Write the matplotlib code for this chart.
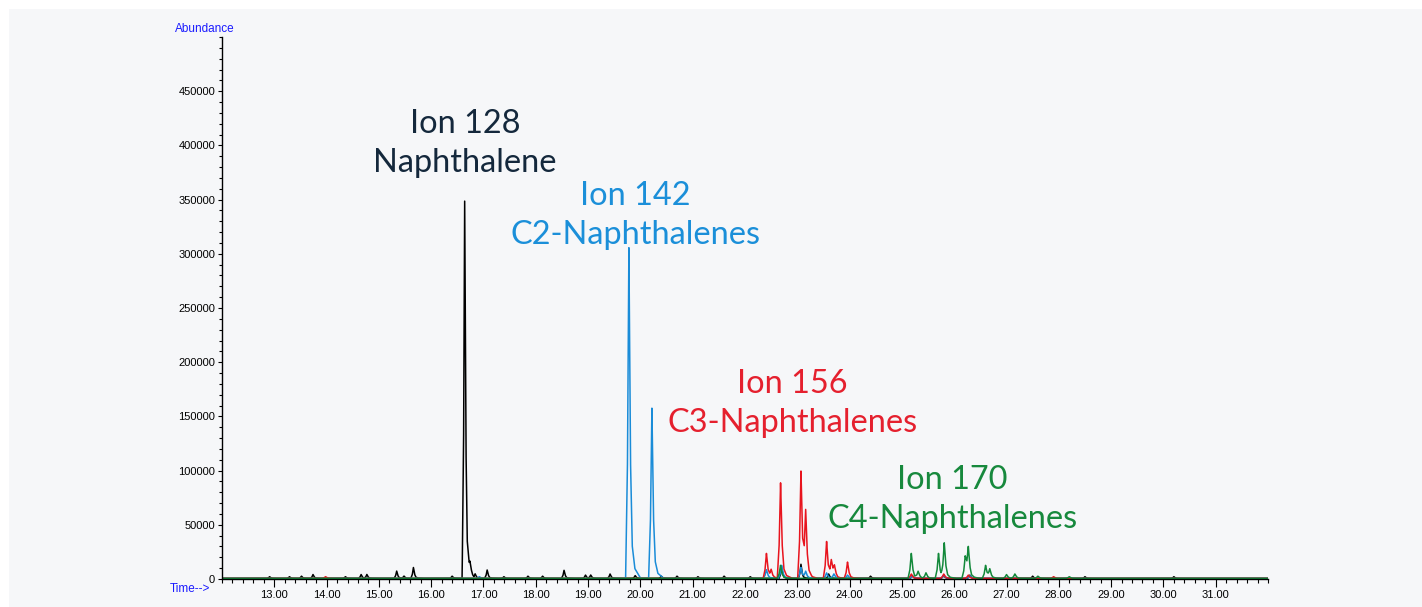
import numpy as np
import matplotlib.pyplot as plt
from matplotlib.patches import Rectangle
from matplotlib.ticker import MultipleLocator, FixedLocator

# peak tables: retention time (min), abundance
ion128_t = [12.91, 13.29, 13.52, 13.74, 14.36, 14.66, 14.77, 15.34, 15.48, 15.66,
            16.40, 16.64, 16.74, 16.84, 17.07, 17.39, 17.85, 18.13, 18.54, 18.95,
            19.05, 19.42, 19.90, 20.40, 20.70, 21.10, 21.60, 22.10, 22.70, 23.07,
            23.60, 24.40, 25.20, 25.80, 26.30, 27.50, 28.50, 30.20]
ion128_h = [1500, 1500, 2000, 3500, 1500, 3500, 3500, 6700, 2000, 10000,
            2000, 348000, 7000, 4000, 7700, 1500, 2000, 2000, 7400, 3000,
            3000, 4000, 2500, 2000, 2000, 1500, 2000, 1500, 10000, 13000,
            4000, 2000, 2500, 3000, 3000, 2000, 1500, 1500]

ion142_t = [16.92, 19.78, 20.22, 22.41, 22.70, 23.07, 23.16, 23.56, 23.70, 23.96,
            25.20, 25.80, 26.30]
ion142_h = [1500, 305000, 157000, 8000, 12000, 10000, 6000, 5000, 4000, 3000,
            2000, 3000, 2500]

ion156_t = [13.98, 22.41, 22.50, 22.68, 23.07, 23.16, 23.56, 23.65, 23.71, 23.96,
            25.18, 25.80, 26.27, 27.90]
ion156_h = [1500, 23000, 7000, 88000, 99000, 57500, 34000, 15000, 10000, 15000,
            4000, 4000, 3000, 1500]

ion170_t = [22.68, 25.18, 25.31, 25.46, 25.70, 25.81, 26.21, 26.27, 26.60, 26.68,
            27.00, 27.16, 27.60, 28.20]
ion170_h = [12000, 23000, 6000, 5000, 23000, 32000, 20000, 27000, 12000, 8000,
            3500, 4000, 2000, 1500]

labels = ["Ion 128\nNaphthalene", "Ion 142\nC2-Naphthalenes",
          "Ion 156\nC3-Naphthalenes", "Ion 170\nC4-Naphthalenes"]
label_pos = [(16.65, 402000), (19.90, 335000), (22.90, 161500), (25.96, 73000)]

line_colors = ["#000000", "#1a8cd8", "#e8141e", "#12883a"]
text_colors = ["#14283c", "#1b8fd9", "#e5202e", "#17893d"]


def trace(grid, times, heights, w):
    y = np.full_like(grid, 600.0)
    for t, h in zip(times, heights):
        y += np.interp(grid,
                       [t - 1.4 * w, t - 0.6 * w, t, t + 0.7 * w, t + 1.4 * w,
                        t + 2.5 * w, t + 5 * w],
                       [0, 0.35 * h, h, 0.35 * h, 0.1 * h, 0.03 * h, 0],
                       left=0, right=0)
    return y


fig = plt.figure(figsize=(14.22, 6.07), dpi=100, facecolor="white")
fig.patches.append(Rectangle((9 / 1422, 0), 1, 1 - 9 / 607, transform=fig.transFigure,
                             facecolor="#f6f7f9", edgecolor="none", zorder=-10))

ax = fig.add_axes([222 / 1422, 28 / 607, 1046 / 1422, 542 / 607])
ax.set_facecolor("none")
ax.set_zorder(5)

grid = np.linspace(12, 32, 8001)
tables = [(ion128_t, ion128_h, 0.035), (ion142_t, ion142_h, 0.045),
          (ion156_t, ion156_h, 0.045), (ion170_t, ion170_h, 0.045)]
for (t, h, w), c in zip(tables, line_colors):
    ax.plot(grid, trace(grid, t, h, w), color=c, lw=1.1)

for lab, (x, y), c in zip(labels, label_pos, text_colors):
    ax.text(x, y, lab, color=c, ha="center", va="center", fontsize=23.4,
            family="Lato", linespacing=1.38)

ax.set_xlim(12, 32)
ax.set_ylim(0, 500000)
for s in ["top", "right"]:
    ax.spines[s].set_visible(False)
ax.spines["left"].set_linewidth(1.0)
ax.spines["bottom"].set_linewidth(1.0)

ax.xaxis.set_major_locator(FixedLocator(np.arange(13, 32)))
ax.xaxis.set_minor_locator(MultipleLocator(0.2))
ax.set_xticklabels(["%.2f" % v for v in np.arange(13, 32)])
ax.yaxis.set_major_locator(FixedLocator(np.arange(0, 450001, 50000)))
ax.yaxis.set_minor_locator(MultipleLocator(10000))
ax.set_yticklabels(["%d" % v for v in np.arange(0, 450001, 50000)])
ax.tick_params(axis="both", which="major", labelsize=8, width=0.8, pad=2)
ax.tick_params(axis="x", which="major", length=6)
ax.tick_params(axis="x", which="minor", length=3, width=0.8)
ax.tick_params(axis="y", which="major", length=3)
ax.tick_params(axis="y", which="minor", length=2, width=0.8)
for lab in ax.get_xticklabels() + ax.get_yticklabels():
    lab.set_family("Liberation Sans")

fig.text(175 / 1422, 1 - 29 / 607, "Abundance", color="#1a1aff", fontsize=8.5,
         family="Liberation Sans", va="center")
fig.text(170 / 1422, 1 - 589 / 607, "Time-->", color="#1a1aff", fontsize=8.5,
         family="Liberation Sans", va="center")

fig.savefig("out.png", dpi=100, facecolor=fig.get_facecolor())
